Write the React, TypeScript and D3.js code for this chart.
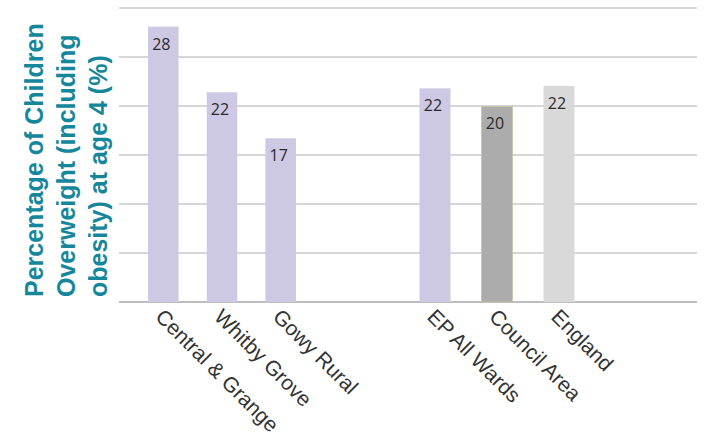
import React from "react";
import * as d3 from "d3";

const wardNames = ["Central & Grange", "Whitby Grove", "Gowy Rural"];
const wardValues = [28.1, 21.4, 16.7];
const wardLabels = ["28", "22", "17"];

const compNames = ["EP All Wards", "Council Area", "England"];
const compValues = [21.8, 19.95, 22.05];
const compLabels = ["22", "20", "22"];
const compColors = ["#cdc8e4", "#acacac", "#d9d9d9"];

const yTicks = [0, 5, 10, 15, 20, 25, 30];
const titleLines = ["Percentage of Children", "Overweight (including", "obesity) at age 4 (%)"];

const W = 704;
const H = 439;

export default function App() {
  const y = d3.scaleLinear().domain([0, 30]).range([302, 8]);
  const x1 = d3.scaleBand<string>().domain(wardNames).range([134, 310]).paddingInner(0.48).paddingOuter(0.24);
  const x2 = d3.scaleBand<string>().domain(compNames).range([404, 590]).paddingInner(0.5).paddingOuter(0.25);

  const bars = [
    ...wardNames.map((n, i) => ({ name: n, v: wardValues[i], label: wardLabels[i], color: "#cdc8e4", x: x1(n)!, w: x1.bandwidth() })),
    ...compNames.map((n, i) => ({ name: n, v: compValues[i], label: compLabels[i], color: compColors[i], x: x2(n)!, w: x2.bandwidth() })),
  ];

  return (
    <svg width={W} height={H} style={{ position: "absolute", left: 0, top: 0, background: "#fff" }}>
      {yTicks.map((t) => (
        <line key={t} x1={119} x2={697} y1={y(t)} y2={y(t)} stroke={t === 0 ? "#a8a8a8" : "#c9c9c9"} strokeWidth={1.6} />
      ))}
      {bars.map((b) => (
        <g key={b.name}>
          <rect x={b.x} y={y(b.v)} width={b.w} height={y(0) - y(b.v)} fill={b.color}
            stroke={b.name === "Council Area" ? "#c8c4a0" : "none"} strokeWidth={0.8} />
          <text x={b.x + b.w / 2 - 2} y={y(b.v) + 23} textAnchor="middle" fontFamily="'Open Sans', sans-serif" fontSize={16} fill="#2a2a2a">
            {b.label}
          </text>
          <text transform={`translate(${b.x + b.w / 2 - 9},${318}) rotate(45)`} fontFamily="'Liberation Sans', Arial, sans-serif" fontSize={21} fill="#333">
            {b.name}
          </text>
        </g>
      ))}
      {titleLines.map((l, i) => (
        <text key={l} transform={`translate(${43 + i * 32},297) rotate(-90)`} fontFamily="'Liberation Sans', Arial, sans-serif" fontWeight="bold" fontSize={25} fill="#16879b">
          {l}
        </text>
      ))}
    </svg>
  );
}
